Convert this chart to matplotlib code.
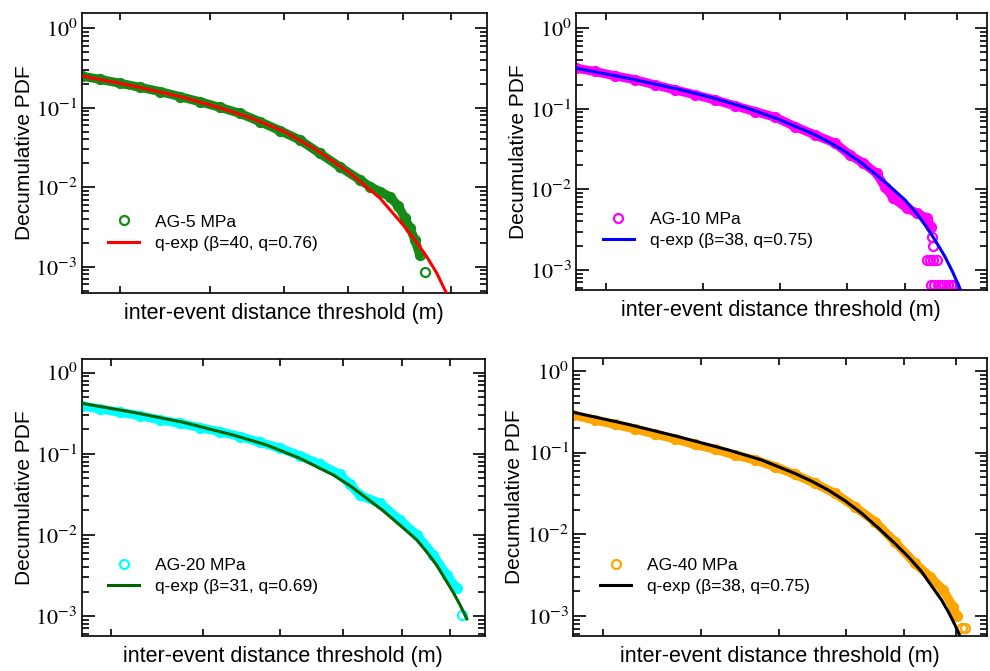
import math
import matplotlib
matplotlib.use("Agg")
import matplotlib.pyplot as plt
from matplotlib.ticker import (LogLocator, NullFormatter, FixedLocator, NullLocator,
                               FuncFormatter)

plt.rcParams['font.family'] = ['Liberation Sans', 'DejaVu Sans']
plt.rcParams['mathtext.fontset'] = 'stix'

# x is the position along the (unlabelled) distance axis, 0..1 of the axis width

# ---- AG-5 MPa
x5 = [0, .045, .095, .144, .193, .243, .292, .342, .391, .440, .490, .539, .588,
      .638, .687, .712, .737, .761, .782, .798, .811, .823, .835]
y5 = [.25, .228, .203, .181, .160, .138, .119, .101, .085, .0668, .0515, .0393, .0267,
      .018, .0124, .0102, .0088, .0076, .0058, .0041, .00305, .00217, .00141]
x5_tail = [.848]
y5_tail = [.00087]
fx5 = [0, .128, .251, .333, .416, .498, .580, .663, .687, .712, .737, .769, .794, .823,
       .852, .877, .897, .901]
fy5 = [.251, .188, .135, .103, .075, .051, .0294, .0150, .0118, .0093, .00727, .0047,
       .00335, .00217, .00134, .00083, .00051, .00047]

# ---- AG-10 MPa
x10 = [0, .046, .095, .144, .192, .241, .290, .338, .387, .436, .485, .533, .582,
       .631, .667, .700, .732, .752, .773, .806, .831, .855, .865]
y10 = [.319, .29, .256, .229, .198, .172, .149, .129, .109, .0924, .0786, .0602, .0474,
       .0374, .0267, .0211, .0158, .0108, .00776, .00583, .00505, .00438, .00346]
x10_tail = [.866, .869, .855, .862, .870, .878, .865, .873, .881, .889, .897, .905, .913, .921]
y10_tail = [.00259, .0020, .00133, .00133, .00133, .00133, .00066, .00066, .00066, .00066,
            .00066, .00066, .00066, .00066]
fx10 = [0, .127, .249, .330, .412, .493, .574, .615, .655, .696, .736, .768, .801, .83,
        .858, .878, .898, .917, .935]
fy10 = [.319, .239, .175, .138, .104, .0742, .0497, .0389, .0295, .0211, .0145, .0105,
        .0074, .0050, .00316, .00219, .00148, .00095, .00059]

# ---- AG-20 MPa
x20 = [0, .045, .095, .145, .194, .244, .293, .343, .393, .442, .492, .541, .591,
       .640, .665, .690, .740, .789, .831, .872, .905, .930]
y20 = [.392, .356, .324, .295, .261, .237, .210, .187, .163, .138, .117, .0948, .0741,
       .0557, .042, .0307, .0245, .0152, .0100, .00565, .0032, .0022]
x20_tail = [.942]
y20_tail = [.00103]
fx20 = [0, .128, .252, .376, .459, .541, .624, .665, .707, .748, .789, .831, .855, .880,
        .905, .921, .938, .955]
fy20 = [.419, .324, .244, .170, .128, .0879, .0547, .0404, .0282, .0197, .0132, .00865,
        .0062, .00425, .00265, .00196, .00137, .00092]

# ---- AG-40 MPa
x40 = [0, .052, .101, .149, .198, .246, .294, .343, .391, .440, .488, .536, .585,
       .633, .681, .730, .778, .827, .863, .895, .919, .928]
y40 = [.289, .251, .222, .195, .169, .147, .126, .11, .0936, .0813, .0674, .0543, .0421,
       .0318, .0218, .0143, .00813, .00442, .00303, .0021, .0013, .0010]
x40_tail = [.940, .948]
y40_tail = [.00072, .00072]
fx40 = [0, .133, .254, .375, .456, .536, .577, .617, .658, .698, .738, .778, .81, .843,
        .867, .891, .91, .923, .935]
fy40 = [.312, .222, .157, .108, .0813, .0558, .0447, .0349, .0257, .0181, .0120, .00776,
        .00537, .00349, .00234, .00158, .00107, .00079, .00058]

panels = [
    dict(x=x5, y=y5, xt=x5_tail, yt=y5_tail, fx=fx5, fy=fy5, dc='#168a16', fc='#ff0000',
         lab='AG-5 MPa', flab='q-exp (β=40, q=0.76)',
         rect=[0.0825, 0.5638, 0.409, 0.4164], ylim=(4.71e-4, 1.545),
         xticks=[.095, .317, .5, .658, .794, .911]),
    dict(x=x10, y=y10, xt=x10_tail, yt=y10_tail, fx=fx10, fy=fy10, dc='#ff00ff', fc='#0000ff',
         lab='AG-10 MPa', flab='q-exp (β=38, q=0.75)',
         rect=[0.5818, 0.5678, 0.4148, 0.4124], ylim=(5.64e-4, 1.53),
         xticks=[.073, .310, .498, .661, .800, .927]),
    dict(x=x20, y=y20, xt=x20_tail, yt=y20_tail, fx=fx20, fy=fy20, dc='#00ffff', fc='#006400',
         lab='AG-20 MPa', flab='q-exp (β=31, q=0.69)',
         rect=[0.0825, 0.0522, 0.4074, 0.4128], ylim=(5.66e-4, 1.475),
         xticks=[.0727, .302, .492, .649, .793, .913]),
    dict(x=x40, y=y40, xt=x40_tail, yt=y40_tail, fx=fx40, fy=fy40, dc='#ffa500', fc='#000000',
         lab='AG-40 MPa', flab='q-exp (β=38, q=0.75)',
         rect=[0.579, 0.0522, 0.4175, 0.4148], ylim=(5.71e-4, 1.455),
         xticks=[.0726, .310, .498, .661, .801, .927]),
]


def decade(v, pos):
    return r'$10^{%d}$' % round(math.log10(v))


fig = plt.figure(figsize=(9.9, 6.71), dpi=100)

for p in panels:
    ax = fig.add_axes(p['rect'])
    ax.set_yscale('log')
    c = p['dc']
    # data band: thick line plus open circles
    ax.plot(p['x'], p['y'], '-', color=c, lw=6.5, solid_capstyle='round',
            solid_joinstyle='round', zorder=2)
    pts, = ax.plot(p['x'] + p['xt'], p['y'] + p['yt'], 'o', mfc='none', mec=c, ms=6.5,
                   mew=1.6, zorder=2, label=p['lab'])
    fit, = ax.plot(p['fx'], p['fy'], '-', color=p['fc'], lw=2.2, zorder=3, label=p['flab'])

    ax.set_xlim(0, 1)
    ax.set_ylim(*p['ylim'])
    ax.xaxis.set_major_locator(FixedLocator(p['xticks']))
    ax.xaxis.set_minor_locator(NullLocator())
    ax.set_xticklabels([])
    ax.yaxis.set_major_locator(LogLocator(base=10, numticks=10))
    ax.yaxis.set_major_formatter(FuncFormatter(decade))
    ax.yaxis.set_minor_locator(LogLocator(base=10, subs=range(2, 10), numticks=20))
    ax.yaxis.set_minor_formatter(NullFormatter())
    ax.tick_params(which='both', direction='in', top=True, right=True, width=1.2)
    ax.tick_params(axis='y', which='major', length=9, labelsize=16, pad=3)
    ax.tick_params(axis='y', which='minor', length=5)
    ax.tick_params(axis='x', which='major', length=5)
    for s in ax.spines.values():
        s.set_linewidth(1.2)

    ax.set_ylabel('Decumulative PDF', fontsize=15)
    ax.yaxis.set_label_coords(-0.118, 0.5)
    ax.set_xlabel('inter-event distance threshold (m)', fontsize=15.5, labelpad=4)

    ax.legend(handles=[pts, fit], loc='lower left', bbox_to_anchor=(0.065, 0.15),
              frameon=False, fontsize=12.5, handlelength=1.8, handletextpad=0.9,
              borderpad=0, borderaxespad=0, labelspacing=0.35)

fig.savefig('out.png', dpi=100)
